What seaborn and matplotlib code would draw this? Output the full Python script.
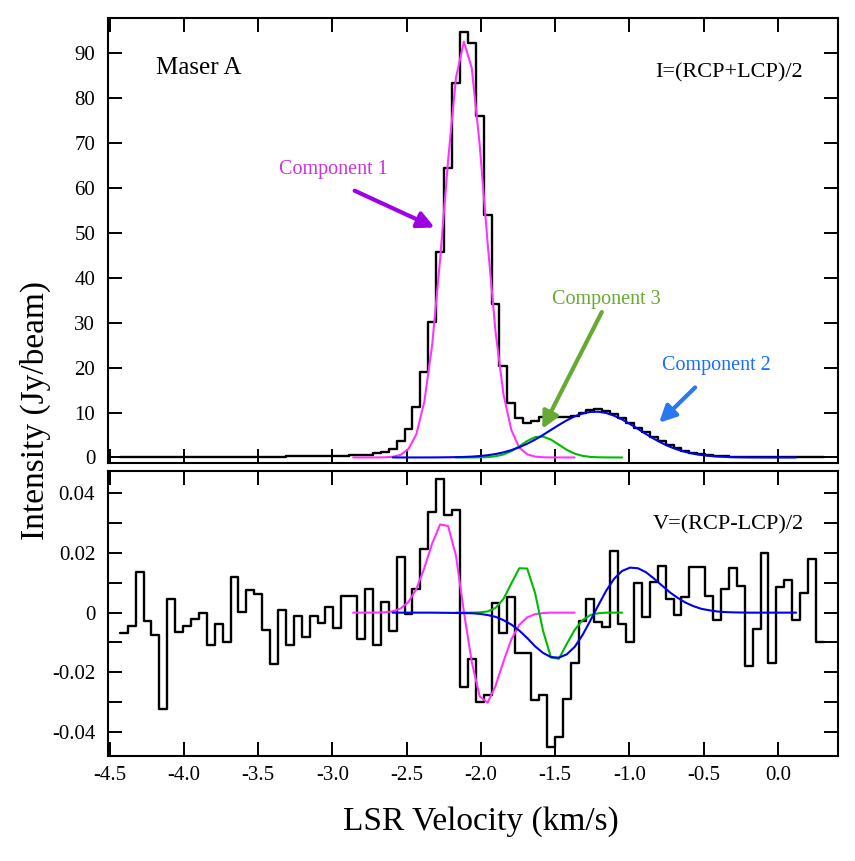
import numpy as np
import seaborn as sns
import matplotlib
import matplotlib.pyplot as plt

matplotlib.use("Agg")

# Channel grid (km/s): first channel edge and channel width
V_START = -4.4316
DV = 0.05327

# Stokes I spectrum, one value per channel (Jy/beam)
i_spec = [0.1, 0.1, 0.1, 0.1, 0.1, 0.1, 0.1, 0.15, 0.15, 0.15,
          0.15, 0.15, 0.15, 0.15, 0.2, 0.2, 0.2, 0.2, 0.2, 0.2,
          0.2, 0.25, 0.25, 0.25, 0.3, 0.3, 0.3, 0.35, 0.4, 0.45,
          0.55, 0.65, 0.9, 1.2, 1.8, 3.6, 6.4, 11.2, 19.0, 30.2,
          45.6, 64.4, 83.3, 94.7, 92.1, 75.9, 54.0, 34.1, 20.3, 12.1,
          8.7, 7.6, 8.1, 9.0, 9.2, 9.1, 9.0, 9.2, 9.9, 10.5,
          10.7, 10.3, 9.6, 8.8, 7.7, 6.6, 5.6, 4.6, 3.6, 2.8,
          2.0, 1.5, 1.0, 0.7, 0.5, 0.35, 0.25, 0.2, 0.15, 0.15,
          0.1, 0.1, 0.1, 0.1, 0.1, 0.1, 0.1, 0.1, 0.1]

# Stokes V spectrum, one value per channel (Jy/beam)
v_spec = [-0.0067, -0.0044, 0.0136, -0.0027, -0.0074, -0.0323, 0.0046, -0.0064, -0.0044, -0.0020,
          -0.0001, -0.0110, -0.0037, -0.0100, 0.0119, 0.0001, 0.0075, 0.0062, -0.0058, -0.0171,
          0.0010, -0.0110, -0.0011, -0.0083, -0.0011, -0.0036, 0.0018, -0.0053, 0.0057, 0.0055,
          -0.0088, 0.0078, -0.0107, 0.0037, -0.0063, 0.0187, -0.0006, 0.0079, 0.0214, 0.0337,
          0.0450, 0.0327, 0.0345, -0.0251, -0.0157, -0.0299, -0.0277, 0.0031, -0.0068, 0.0053,
          -0.0134, -0.0134, -0.0293, -0.0277, -0.0452, -0.0418, -0.0289, -0.0168, -0.0028, 0.0047,
          -0.0030, -0.0047, 0.0207, -0.0037, -0.0098, 0.0100, -0.0013, 0.0104, 0.0158, 0.0045,
          -0.0009, 0.0051, 0.0153, 0.0154, 0.0057, -0.0025, 0.0081, 0.0149, 0.0089, -0.0179,
          -0.0056, 0.0199, -0.0168, 0.0085, 0.0109, -0.0026, 0.0067, 0.0179, -0.0098]

# Fitted components, sampled at channel centres (first channel index, values)
C1_START = 29
c1_i = [0, 0, 0, 0.01, 0.03, 0.15, 0.57, 1.9, 5.2, 12.4, 25.2, 44.2, 66.0, 84.5, 92.5,
        86.6, 69.5, 47.7, 28.0, 14.1, 6.1, 2.2, 0.7, 0.19, 0.04, 0.01, 0, 0, 0]
c1_v = [0, 0, 0, 0.00003, 0.00012, 0.00044, 0.0014, 0.0036, 0.0080, 0.0150, 0.0233, 0.0296,
        0.0291, 0.0191, 0.0003, -0.0166, -0.0281, -0.0302, -0.0246, -0.0164, -0.0090, -0.0041,
        -0.0016, -0.0005, -0.00015, 0, 0, 0, 0]

C2_START = 34
c2_i = [0, 0, 0, 0, 0.005, 0.01, 0.02, 0.04, 0.07, 0.11, 0.19, 0.32, 0.50, 0.76, 1.14, 1.63,
        2.27, 3.05, 3.97, 5.00, 6.12, 7.22, 8.25, 9.13, 9.78, 10.14, 10.17, 9.89, 9.28, 8.45,
        7.44, 6.35, 5.23, 4.18, 3.23, 2.41, 1.75, 1.23, 0.83, 0.54, 0.35, 0.21, 0.13, 0.07,
        0.04, 0.02, 0.01, 0.005, 0, 0, 0, 0]
c2_v = [0, 0, 0, 0, 0, 0, -0.00003, -0.00006, -0.0001, -0.00015, -0.0002, -0.0004, -0.0008,
        -0.0014, -0.0025, -0.0040, -0.0060, -0.0085, -0.0113, -0.0135, -0.0149, -0.0151,
        -0.0140, -0.0115, -0.0075, -0.0026, 0.0025, 0.0074, 0.0114, 0.0140, 0.0151, 0.0149,
        0.0136, 0.0115, 0.0092, 0.0069, 0.0050, 0.0034, 0.0022, 0.0013, 0.0008, 0.0004,
        0.0002, 0.0001, 0.00005, 0, 0, 0, 0, 0, 0, 0]

C3_START = 42
c3_i = [0, 0, 0.005, 0.02, 0.08, 0.26, 0.66, 1.39, 2.48, 3.67, 4.52, 4.65, 3.98, 2.85,
        1.70, 0.85, 0.35, 0.12, 0.035, 0.01, 0, 0]
c3_v = [0, 0, 0.00001, 0.0001, 0.0004, 0.0016, 0.0046, 0.0098, 0.0149, 0.0148, 0.0066,
        -0.0060, -0.0150, -0.0155, -0.0105, -0.0058, -0.0025, -0.0008, -0.0002, 0, 0, 0]

PINK = "#ff33ff"
BLUE = "#0000ee"
GREEN = "#00bb00"

sns.set_style("ticks")
plt.rcParams["font.family"] = ["Liberation Serif", "DejaVu Serif"]
plt.rcParams["axes.unicode_minus"] = False
for key in ("text.color", "axes.edgecolor", "axes.labelcolor", "xtick.color", "ytick.color"):
    plt.rcParams[key] = "black"

n_chan = len(i_spec)
edges = V_START + DV * np.arange(n_chan + 1)
centers = edges[:-1] + DV / 2

W, H = 855, 861
fig = plt.figure(figsize=(W / 100, H / 100), dpi=100)
left, right = 107.7, 838.3
ax_top = fig.add_axes([left / W, 1 - 463.3 / H, (right - left) / W, (463.3 - 18.3) / H])
ax_bot = fig.add_axes([left / W, 1 - 756.0 / H, (right - left) / W, (756.0 - 470.8) / H])


def draw_panel(ax, spec, comps):
    # histogram-style spectrum (steps over channel edges)
    sns.lineplot(x=edges, y=np.append(spec, spec[-1]), ax=ax, color="black",
                 linewidth=1.7, drawstyle="steps-post", estimator=None, sort=False)
    for start, vals, col in comps:
        sns.lineplot(x=centers[start:start + len(vals)], y=vals, ax=ax, color=col,
                     linewidth=1.5, estimator=None, sort=False)


draw_panel(ax_top, i_spec, [(C1_START, c1_i, PINK), (C3_START, c3_i, GREEN), (C2_START, c2_i, BLUE)])
draw_panel(ax_bot, v_spec, [(C1_START, c1_v, PINK), (C3_START, c3_v, GREEN), (C2_START, c2_v, BLUE)])

xlim = (-4.513, 0.407)
for ax in (ax_top, ax_bot):
    ax.set_xlim(*xlim)
    ax.set_xticks(np.arange(-4.5, 0.01, 0.5))
    ax.tick_params(which="both", direction="in", top=True, right=True,
                   length=10, width=1.4, labelsize=15, pad=7)
    for sp in ax.spines.values():
        sp.set_linewidth(1.5)
        sp.set_color("black")
    ax.set_xlabel("")
    ax.set_ylabel("")

ax_top.set_ylim(-1.3, 97.7)
ax_top.set_yticks(np.arange(0, 91, 10))
ax_top.tick_params(labelbottom=False)
ax_top.tick_params(axis="y", pad=9)

ax_bot.set_ylim(-0.0481, 0.0476)
ax_bot.set_yticks([-0.04, -0.02, 0, 0.02, 0.04])
ax_bot.set_yticklabels(["-0.04", "-0.02", "0", "0.02", "0.04"])
ax_bot.set_yticks([-0.03, -0.01, 0.01, 0.03], minor=True)
ax_bot.tick_params(axis="y", pad=9)
ax_bot.set_xticklabels([f"{v:.1f}" for v in np.arange(-4.5, 0.01, 0.5)])

# panel labels
ax_top.text(-4.19, 86.7, "Maser A", fontsize=18, va="center", ha="left")
ax_top.text(-0.827, 85.6, "I=(RCP+LCP)/2", fontsize=16, va="center", ha="left")
ax_bot.text(-0.84, 0.0294, "V=(RCP-LCP)/2", fontsize=16, va="center", ha="left")

# component annotations
ax_top.text(-2.996, 64.0, "Component 1", color="#cc33dd", fontsize=14.5, ha="center", va="center")
ax_top.annotate("", xy=(-2.295, 50.9), xytext=(-2.867, 59.6),
                arrowprops=dict(arrowstyle="-|>", color="#a000e8", lw=3, mutation_scale=25))
ax_top.text(-1.157, 35.1, "Component 3", color="#66aa33", fontsize=14.5, ha="center", va="center")
ax_top.annotate("", xy=(-1.595, 5.8), xytext=(-1.177, 32.9),
                arrowprops=dict(arrowstyle="-|>", color="#66aa33", lw=3, mutation_scale=25))
ax_top.text(-0.416, 20.4, "Component 2", color="#1a6eff", fontsize=14.5, ha="center", va="center")
ax_top.annotate("", xy=(-0.813, 7.3), xytext=(-0.544, 16.0),
                arrowprops=dict(arrowstyle="-|>", color="#2a78f0", lw=3, mutation_scale=25))

fig.text(35 / W, 1 - 410 / H, "Intensity (Jy/beam)", rotation=90, fontsize=24,
         ha="center", va="center")
fig.text(481 / W, 1 - 822 / H, "LSR Velocity (km/s)", fontsize=24, ha="center", va="center")

fig.savefig("out.png", dpi=100)
